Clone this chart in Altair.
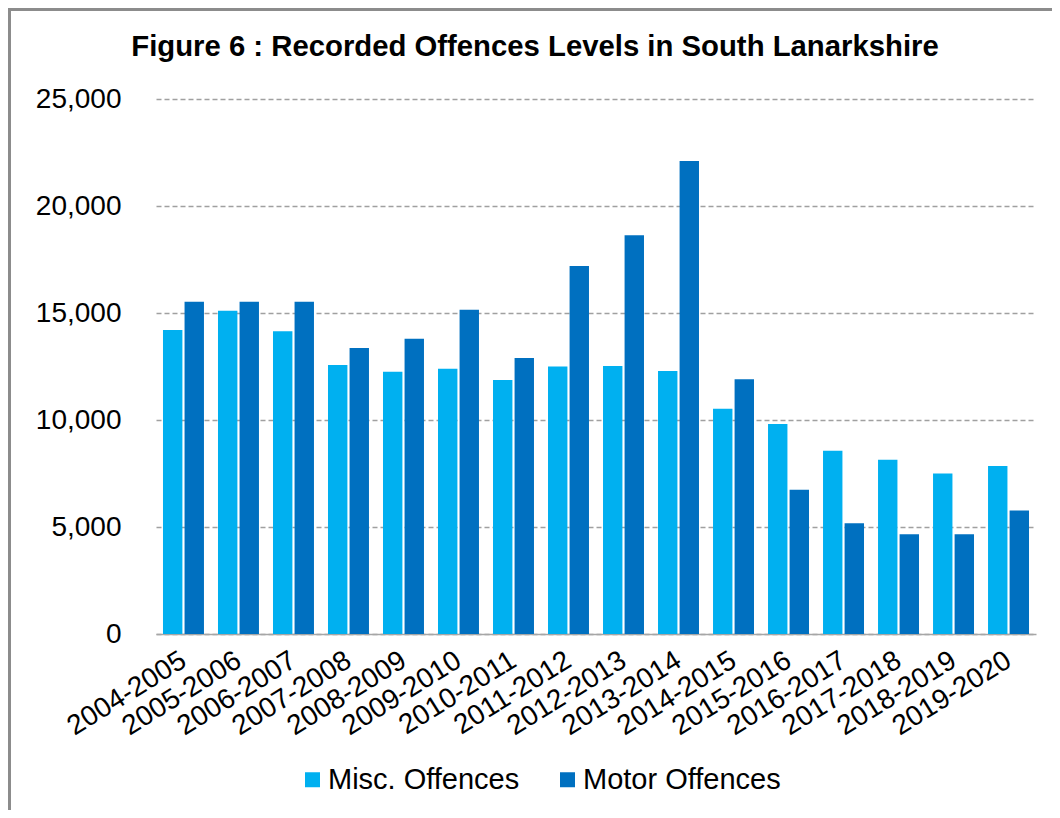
import altair as alt
import pandas as pd

years = ["2004-2005", "2005-2006", "2006-2007", "2007-2008", "2008-2009",
         "2009-2010", "2010-2011", "2011-2012", "2012-2013", "2013-2014",
         "2014-2015", "2015-2016", "2016-2017", "2017-2018", "2018-2019",
         "2019-2020"]
misc = [14200, 15100, 14150, 12570, 12250, 12400, 11870, 12500, 12520, 12290,
        10520, 9810, 8560, 8140, 7500, 7850]
motor = [15520, 15520, 15520, 13370, 13800, 15150, 12900, 17200, 18630, 22100,
         11900, 6740, 5180, 4660, 4660, 5770]
series = ["Misc. Offences", "Motor Offences"]
colors = ["#00B0F0", "#0070C0"]
y_ticks = [0, 5000, 10000, 15000, 20000, 25000]
title_text = "Figure 6 : Recorded Offences Levels in South Lanarkshire"

rows = []
for i, yr in enumerate(years):
    rows.append({"year": yr, "series": series[0], "value": misc[i]})
    rows.append({"year": yr, "series": series[1], "value": motor[i]})
df = pd.DataFrame(rows)

FONT = "Liberation Sans"

bars = alt.Chart(df).mark_bar().encode(
    x=alt.X("year:N", sort=years, title=None,
            scale=alt.Scale(paddingInner=0.255, paddingOuter=0.127),
            axis=alt.Axis(labelAngle=-32, labelAlign="right", labelBaseline="top",
                          labelFontSize=28, labelPadding=12, labelOffset=-7,
                          ticks=False, domainColor="#A6A6A6", domainWidth=1.5,
                          labelColor="black", labelFont=FONT, grid=False,
                          labelLimit=400)),
    xOffset=alt.XOffset("series:N", sort=series, scale=alt.Scale(paddingInner=0.1)),
    y=alt.Y("value:Q", title=None, scale=alt.Scale(domain=[0, 25000]),
            axis=alt.Axis(values=y_ticks, format=",d", grid=True, gridDash=[5, 3],
                          gridColor="#A0A0A0", gridWidth=1.3, domain=False, ticks=False,
                          labelFontSize=28, labelPadding=35, labelColor="black",
                          labelFont=FONT)),
    color=alt.Color("series:N", sort=series,
                    scale=alt.Scale(domain=series, range=colors),
                    legend=alt.Legend(title=None, orient="none", direction="horizontal",
                                      legendX=142, legendY=666, symbolType="square",
                                      symbolSize=225, labelFontSize=29, labelFont=FONT,
                                      labelColor="black", labelOffset=1, labelLimit=400,
                                      columnPadding=33, symbolStrokeWidth=0,
                                      padding=0)),
)

title = alt.Chart(alt.Data(values=[{"t": title_text}])).mark_text(
    font=FONT, fontSize=29.3, fontWeight="bold", color="black",
    align="center", baseline="alphabetic").encode(
    text="t:N", x=alt.value(379), y=alt.value(-43))

border_top = alt.Chart(alt.Data(values=[{}])).mark_rule(
    color="#8C8C8C", strokeWidth=3).encode(
    x=alt.value(-150), x2=alt.value(920), y=alt.value(-89.5))
border_left = alt.Chart(alt.Data(values=[{}])).mark_rule(
    color="#8C8C8C", strokeWidth=3).encode(
    x=alt.value(-146.5), y=alt.value(-95), y2=alt.value(730))

chart = alt.layer(bars, title, border_top, border_left).properties(
    width=880,
    height=535,
    autosize=alt.AutoSizeParams(type="none"),
    padding={"left": 148, "top": 91, "right": 16, "bottom": 176},
).configure_view(stroke=None)

chart.save("out.html", embed_options={"renderer": "svg", "actions": False})
